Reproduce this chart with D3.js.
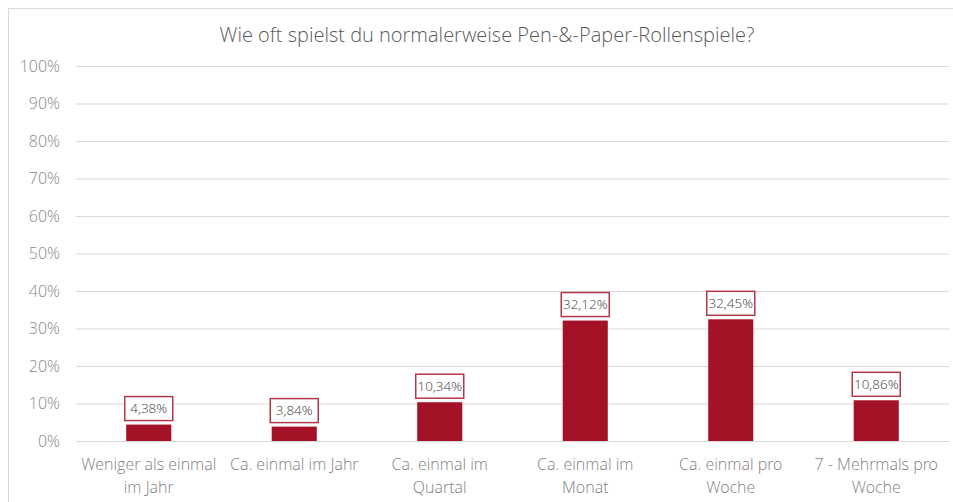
<!DOCTYPE html>
<html>
<head>
<meta charset="utf-8">
<script src="https://cdn.jsdelivr.net/npm/d3@7"></script>
<style>
  body { margin: 0; background: #fff; }
  text { font-family: "Open Sans Light", "Open Sans", sans-serif; font-weight: 300; }
</style>
</head>
<body>
<div id="chart"></div>
<script>
// chart data
var chartTitle = "Wie oft spielst du normalerweise Pen-&-Paper-Rollenspiele?";
var categories = ["Weniger als einmal im Jahr", "Ca. einmal im Jahr", "Ca. einmal im Quartal",
                  "Ca. einmal im Monat", "Ca. einmal pro Woche", "7 - Mehrmals pro Woche"];
var values = [4.38, 3.84, 10.34, 32.12, 32.45, 10.86];
var yTicks = [0, 10, 20, 30, 40, 50, 60, 70, 80, 90, 100];

var W = 953, H = 502;
var margin = {top: 66, right: 4, bottom: 61, left: 76},
    width = W - margin.left - margin.right,
    height = H - margin.top - margin.bottom;

var svg = d3.select("#chart").append("svg")
    .attr("width", W)
    .attr("height", H);

// outer frame
svg.append("rect")
    .attr("x", 8.5).attr("y", 8.5)
    .attr("width", W + 10).attr("height", H + 10)
    .style("fill", "none")
    .style("stroke", "#d9d9d9");

svg.append("text")
    .attr("x", 487).attr("y", 42)
    .attr("text-anchor", "middle")
    .style("font-size", "20px")
    .style("fill", "#595959")
    .text(chartTitle);

var g = svg.append("g")
    .attr("transform", "translate(" + margin.left + "," + margin.top + ")");

var x = d3.scaleBand()
    .domain(categories)
    .range([0, width])
    .paddingInner(0.69)
    .paddingOuter(0.345);
var y = d3.scaleLinear()
    .domain([0, 100])
    .range([height, 0]);

// gridlines + y labels
var yAxis = g.append("g")
    .call(d3.axisLeft(y).tickValues(yTicks).tickSize(-width).tickPadding(16)
          .tickFormat(function(d) { return d + "%"; }));
yAxis.select(".domain").remove();
yAxis.selectAll("line").style("stroke", "#d9d9d9");
yAxis.selectAll("text")
    .style("font-size", "16px")
    .style("fill", "#8c8c8c")
    .style("font-family", null);

// bars
g.selectAll(".bar")
    .data(values)
    .enter().append("rect")
    .attr("class", "bar")
    .attr("x", function(d, i) { return x(categories[i]); })
    .attr("width", x.bandwidth())
    .attr("y", function(d) { return y(d); })
    .attr("height", function(d) { return height - y(d); })
    .style("fill", "#a31226");

// boxed value labels
var lab = g.selectAll(".lab")
    .data(values)
    .enter().append("g")
    .attr("class", "lab")
    .attr("transform", function(d, i) {
        return "translate(" + (x(categories[i]) + x.bandwidth() / 2) + "," + (y(d) - 16) + ")";
    });
lab.append("rect")
    .attr("x", -24).attr("y", -12)
    .attr("width", 48).attr("height", 24)
    .style("fill", "#fff")
    .style("stroke", "#b5374a")
    .style("stroke-width", 1.5);
lab.append("text")
    .attr("text-anchor", "middle")
    .attr("dy", "0.36em")
    .style("font-size", "13.5px")
    .style("fill", "#404040")
    .text(function(d) { return d.toFixed(2).replace(".", ",") + "%"; });

// x axis labels, wrapped
var xAxis = g.append("g")
    .attr("transform", "translate(0," + height + ")")
    .call(d3.axisBottom(x).tickSize(0).tickPadding(18));
xAxis.select(".domain").style("stroke", "#d9d9d9");
xAxis.selectAll("text")
    .style("font-size", "16px")
    .style("fill", "#7f7f7f")
    .style("font-family", null)
    .call(wrap, 140);

function wrap(text, w) {
  text.each(function() {
    var t = d3.select(this),
        words = t.text().split(/\s+/),
        line = [],
        yy = t.attr("y"),
        dy = parseFloat(t.attr("dy")),
        lineNo = 0,
        tspan = t.text(null).append("tspan").attr("x", 0).attr("y", yy).attr("dy", dy + "em");
    words.forEach(function(word) {
      line.push(word);
      tspan.text(line.join(" "));
      if (tspan.node().getComputedTextLength() > w && line.length > 1) {
        line.pop();
        tspan.text(line.join(" "));
        line = [word];
        tspan = t.append("tspan").attr("x", 0).attr("y", yy)
            .attr("dy", (++lineNo * 1.44 + dy) + "em").text(word);
      }
    });
  });
}
</script>
</body>
</html>
